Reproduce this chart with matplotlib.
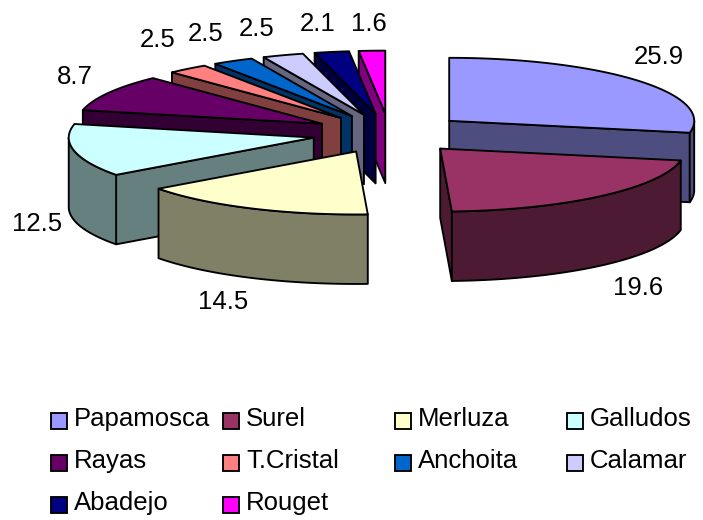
import numpy as np
import matplotlib
matplotlib.use('Agg')
import matplotlib.pyplot as plt
from matplotlib.colors import to_rgb
from matplotlib.patches import Polygon, Rectangle

plt.rcParams['font.family'] = ['Liberation Sans', 'DejaVu Sans']

especies = ['Papamosca', 'Surel', 'Merluza', 'Galludos', 'Rayas',
            'T.Cristal', 'Anchoita', 'Calamar', 'Abadejo', 'Rouget']
valores = [25.9, 19.6, 14.5, 12.5, 8.7, 2.5, 2.5, 2.5, 2.1, 1.6]
colores = ['#9999FF', '#993366', '#FFFFCC', '#CCFFFF', '#660066',
           '#FF8080', '#0066CC', '#CCCCFF', '#000080', '#FF00FF']

# pie geometry in pixels
CX, CY = 389.5, 133.5
RX, RY = 245, 63
ALTO = 69.5
EXPLODE = 0.316
LW = 1.35
FS = 18.5

# back slices first, the front ones paint over them
orden = [9, 8, 7, 6, 5, 4, 3, 0, 1, 2]

# label centres, same order as valores
pos_etiquetas = [(659, 57), (638, 288), (223, 302), (37, 224), (75, 77),
                 (158, 40), (206, 34), (257, 29), (318, 24), (369, 24)]

# legend layout
leg_x = [51, 223, 395, 567]
leg_y = [413, 455, 497]


def punto(cx, cy, ang):
    return cx + RX * np.sin(ang), cy - RY * np.cos(ang)


def pared(ax, puntos, color, z):
    pts = np.array(puntos)
    abajo = pts[::-1] + [0, ALTO]
    ax.add_patch(Polygon(np.vstack([pts, abajo]), closed=True, facecolor=color,
                         edgecolor='black', linewidth=LW, zorder=z, joinstyle='round'))


fig = plt.figure(figsize=(7.03, 5.2), dpi=100)
ax = fig.add_axes([0, 0, 1, 1])
ax.set_xlim(0, 703)
ax.set_ylim(520, 0)
ax.axis('off')

total = sum(valores)
bordes = np.cumsum([0] + valores) / total * 2 * np.pi

for n, i in enumerate(orden):
    a0, a1 = bordes[i], bordes[i + 1]
    medio = (a0 + a1) / 2
    x0 = CX + EXPLODE * RX * np.sin(medio)
    y0 = CY - EXPLODE * RY * np.cos(medio)
    lado = tuple(c * 0.5 for c in to_rgb(colores[i]))
    z = 10 + n * 5

    # cut faces, only the ones turned to the viewer
    if np.sin(a0) < 0:
        pared(ax, [(x0, y0), punto(x0, y0, a0)], lado, z)
    if np.sin(a1) > 0:
        pared(ax, [(x0, y0), punto(x0, y0, a1)], lado, z)

    # outer wall on the front half of the ellipse
    b0, b1 = max(a0, np.pi / 2), min(a1, 3 * np.pi / 2)
    if b1 > b0:
        t = np.linspace(b0, b1, 60)
        pared(ax, list(zip(*punto(x0, y0, t))), lado, z + 1)

    # top face
    t = np.linspace(a0, a1, 80)
    xs, ys = punto(x0, y0, t)
    ax.add_patch(Polygon(np.vstack([[x0, y0], np.column_stack([xs, ys])]), closed=True,
                         facecolor=colores[i], edgecolor='black', linewidth=LW,
                         zorder=z + 2, joinstyle='round'))

for v, (x, y) in zip(valores, pos_etiquetas):
    ax.text(x, y, f'{v}', fontsize=FS, ha='center', va='center', color='black', zorder=100)

# legend is filled row by row
for i, nombre in enumerate(especies):
    fila, col = divmod(i, 4)
    ax.add_patch(Rectangle((leg_x[col], leg_y[fila]), 15.5, 15.5, facecolor=colores[i],
                           edgecolor='black', linewidth=LW, zorder=100))
    ax.text(leg_x[col] + 23, leg_y[fila] + 13, nombre, fontsize=FS, ha='left',
            va='baseline', color='black', zorder=100)

fig.savefig('out.png', dpi=100, facecolor='white')
